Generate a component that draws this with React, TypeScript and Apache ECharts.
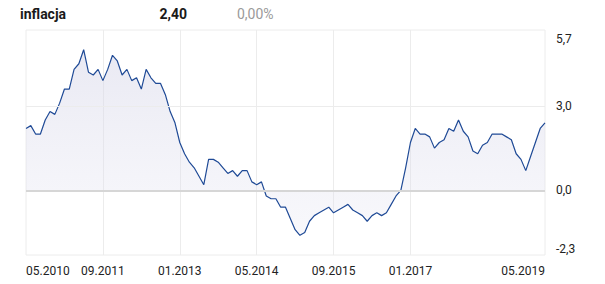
import React, { useEffect, useRef } from "react";
import * as echarts from "echarts";

const startYear = 2010;
const startMonth = 5;
const values: number[] = [
  // 2010 (05-12)
  2.2, 2.3, 2.0, 2.0, 2.5, 2.8, 2.7, 3.1,
  // 2011
  3.6, 3.6, 4.3, 4.5, 5.0, 4.2, 4.1, 4.3, 3.9, 4.3, 4.8, 4.6,
  // 2012
  4.1, 4.3, 3.9, 4.0, 3.6, 4.3, 4.0, 3.8, 3.8, 3.4, 2.8, 2.4,
  // 2013
  1.7, 1.3, 1.0, 0.8, 0.5, 0.2, 1.1, 1.1, 1.0, 0.8, 0.6, 0.7,
  // 2014
  0.5, 0.7, 0.7, 0.3, 0.2, 0.3, -0.2, -0.3, -0.3, -0.6, -0.6, -1.0,
  // 2015
  -1.4, -1.6, -1.5, -1.1, -0.9, -0.8, -0.7, -0.6, -0.8, -0.7, -0.6, -0.5,
  // 2016
  -0.7, -0.8, -0.9, -1.1, -0.9, -0.8, -0.9, -0.8, -0.5, -0.2, 0.0, 0.8,
  // 2017
  1.7, 2.2, 2.0, 2.0, 1.9, 1.5, 1.7, 1.8, 2.2, 2.1, 2.5, 2.1,
  // 2018
  1.9, 1.4, 1.3, 1.6, 1.7, 2.0, 2.0, 2.0, 1.9, 1.8, 1.3, 1.1,
  // 2019 (01-05)
  0.7, 1.2, 1.7, 2.2, 2.4,
];

const categories: string[] = values.map((_, i) => {
  const m0 = startMonth - 1 + i;
  const y = startYear + Math.floor(m0 / 12);
  const m = (m0 % 12) + 1;
  return (m < 10 ? "0" : "") + m + "." + y;
});

const xLabelIndices = [0, 16, 32, 48, 64, 80, 108];
const xGridIndices = [16, 32, 48, 64, 80];
const yTickValues = [-2.3, 0, 3.0, 5.7];
const yGridValues = [3.0];
const yMin = -2.3;
const yMax = 5.7;

const headerName = "inflacja";
const headerValue = "2,40";
const headerChange = "0,00%";

const fmt = (v: number) => v.toFixed(1).replace(".", ",");

export default function App() {
  const ref = useRef<HTMLDivElement>(null);
  useEffect(() => {
    document.body.style.margin = "0";
    if (!ref.current) return;
    const chart = echarts.init(ref.current, undefined, { renderer: "svg" });
    const font = "Roboto, 'Noto Sans', sans-serif";
    chart.setOption({
      animation: false,
      textStyle: { fontFamily: font },
      grid: {
        left: 26,
        right: 60,
        top: 30,
        bottom: 29,
        show: true,
        borderColor: "#ececec",
        borderWidth: 1,
        backgroundColor: "transparent",
      },
      graphic: [
        {
          type: "text",
          left: 20,
          top: 7,
          style: { text: headerName, font: `bold 14px ${font}`, fill: "#1a1a1a" },
        },
        {
          type: "text",
          x: 187,
          y: 7,
          style: { text: headerValue, font: `bold 14px ${font}`, fill: "#1a1a1a", align: "right" },
        },
        {
          type: "text",
          x: 237,
          y: 7,
          style: { text: headerChange, font: `14px ${font}`, fill: "#9a9a9a" },
        },
      ],
      xAxis: {
        type: "category",
        data: categories,
        boundaryGap: false,
        axisLine: { show: false },
        axisTick: { show: false },
        axisLabel: {
          interval: (i: number) => xLabelIndices.includes(i),
          color: "#222",
          fontSize: 12,
          fontFamily: font,
          margin: 10,
          alignMinLabel: "left",
          alignMaxLabel: "right",
          showMinLabel: true,
          showMaxLabel: true,
          hideOverlap: false,
        },
        splitLine: {
          show: true,
          interval: (i: number) => xGridIndices.includes(i),
          lineStyle: { color: "#ececec", width: 1 },
        },
      },
      yAxis: {
        type: "value",
        position: "right",
        min: yMin,
        max: yMax,
        axisLine: { show: false },
        axisTick: { show: false },
        splitLine: { show: false },
        axisLabel: {
          customValues: yTickValues,
          formatter: (v: number) => (Math.abs(v - yMax) < 1e-9 ? `{top|${fmt(v)}}` : fmt(v)),
          rich: {
            top: { padding: [3, 0, 0, 0], fontSize: 12, color: "#222", fontFamily: font },
          },
          color: "#222",
          fontSize: 12,
          fontFamily: font,
          margin: 11,
          verticalAlignMinLabel: "bottom",
          verticalAlignMaxLabel: "top",
          showMinLabel: true,
          showMaxLabel: true,
        },
      },
      series: [
        {
          type: "line",
          data: values,
          symbol: "none",
          smooth: false,
          lineStyle: { color: "#1f4a96", width: 1.2 },
          areaStyle: {
            color: new echarts.graphic.LinearGradient(0, 0, 0, 1, [
              { offset: 0, color: "rgba(214,214,232,0.75)" },
              { offset: 1, color: "rgba(226,226,240,0.35)" },
            ]),
          },
          markLine: {
            silent: true,
            symbol: "none",
            label: { show: false },
            animation: false,
            data: [
              ...yGridValues.map((v) => ({ yAxis: v, lineStyle: { color: "#ececec", width: 1, type: "solid" } })),
              { yAxis: 0, lineStyle: { color: "#d6d6d6", width: 2, type: "solid" } },
            ],
          },
          z: 3,
        },
      ],
    });
    return () => chart.dispose();
  }, []);
  return <div ref={ref} style={{ width: 605, height: 284 }} />;
}
